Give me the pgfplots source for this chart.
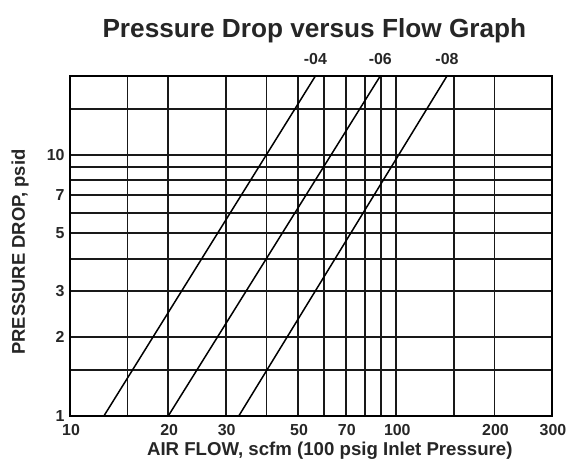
\documentclass[border=0pt]{standalone}
\usepackage{fontspec}
\setmainfont{Liberation Sans}
\usepackage{pgfplots}
\pgfplotsset{compat=1.18}
\begin{document}
\begin{tikzpicture}
\useasboundingbox (-70bp,-43bp) rectangle (512bp,416bp);
\begin{axis}[
  scale only axis,
  width=482bp, height=340bp,
  at={(0,0)}, anchor=south west,
  xmode=log, ymode=log,
  xmin=10, xmax=300, ymin=1, ymax=20,
  xtick={10,20,30,50,70,100,200,300},
  xticklabels={10,20,30,50,70,100,200,300},
  minor xtick={15,40,60,80,90,150},
  ytick={1,2,3,5,7,10},
  yticklabels={1,2,3,5,7,10},
  minor ytick={1.5,4,6,8,9,15},
  major tick length=0pt, minor tick length=0pt,
  grid=both,
  major grid style={black!90, line width=1.8bp},
  minor grid style={black!90, line width=1.8bp},
  axis line style={black, line width=2.2bp},
  tick label style={font=\fontsize{16}{16}\selectfont\bfseries, text=black!85, inner sep=1bp},
  xticklabel style={yshift=-7.5bp, xshift=1bp},
  yticklabel style={xshift=-4.3bp},
  /pgf/number format/assume math mode=true,
  title={Pressure Drop versus Flow Graph},
  title style={at={(0.507,1.097)}, anchor=base, font=\fontsize{26.3}{26.3}\selectfont\bfseries, text=black!85},
  xlabel={AIR FLOW, scfm (100 psig Inlet Pressure)},
  xlabel style={at={(0.539,-0.1176)}, anchor=base, font=\fontsize{18.7}{18.7}\selectfont\bfseries, text=black!85},
  ylabel={PRESSURE DROP, psid},
  ylabel style={at={(-0.0934,0.482)}, anchor=base, font=\fontsize{18.5}{18.5}\selectfont\bfseries, text=black!85},
  clip=false,
]
\addplot[black, line width=1.5bp] coordinates {(12.7,1) (56.5,20)};
\addplot[black, line width=1.5bp] coordinates {(20,1) (89.3,20)};
\addplot[black, line width=1.5bp] coordinates {(32.9,1) (143,20)};
\node[anchor=base, yshift=11bp, font=\fontsize{16}{16}\selectfont\bfseries, text=black!85] at (axis cs:56.5,20) {-04};
\node[anchor=base, yshift=11bp, font=\fontsize{16}{16}\selectfont\bfseries, text=black!85] at (axis cs:89.3,20) {-06};
\node[anchor=base, yshift=11bp, font=\fontsize{16}{16}\selectfont\bfseries, text=black!85] at (axis cs:143,20) {-08};
\end{axis}
\end{tikzpicture}
\end{document}
